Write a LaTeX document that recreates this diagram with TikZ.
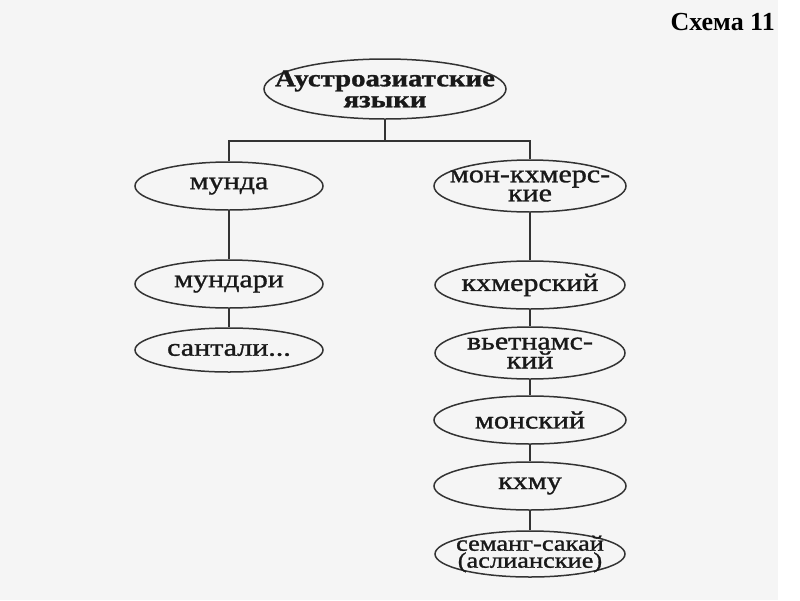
\documentclass[tikz,border=0pt]{standalone}
\usepackage{fontspec}
\setmainfont{Liberation Serif}[FakeStretch=1.2, FakeBold=1.2]
\newfontfamily\titlefont{Liberation Serif}
\usetikzlibrary{shapes.geometric}
\definecolor{bgcol}{HTML}{F5F5F5}
\definecolor{inkcol}{HTML}{333333}

\begin{document}
\begin{tikzpicture}[x=1pt, y=-1pt,
  lang/.style={ellipse, draw=inkcol, line width=1.5pt,
    inner xsep=-60pt, inner ysep=-20pt,
    minimum width=188pt, minimum height=48pt, align=center,
    text=black!90, font=\fontsize{25}{19}\selectfont},
  root/.style={lang, minimum width=242pt, minimum height=60pt,
    font=\bfseries\fontsize{24}{21}\selectfont},
  link/.style={draw=inkcol, line width=2pt}]
  \fill[bgcol] (0,0) rectangle (778,600);
  \useasboundingbox (0,0) rectangle (800,600);

  % root of the tree
  \node[root] (root) at (385,89) {Аустроазиатские\\языки};
  \coordinate (bar) at (385,141);

  % left branch
  \node[lang] (munda)   at (229,186) {мунда};
  \node[lang] (mundari) at (229,284) {мундари};
  \node[lang, minimum height=44pt] (santali) at (229,350) {сантали...};

  % right branch
  \node[lang, minimum width=192pt, minimum height=52pt] (monkhmer) at (530,186) {мон-кхмерс-\\кие};
  \node[lang, minimum width=190pt] (khmer)  at (530,285) {кхмерский};
  \node[lang, minimum width=190pt, minimum height=52pt] (viet) at (530,353) {вьетнамс-\\кий};
  \node[lang, minimum width=192pt] (mon)    at (530,420) {монский};
  \node[lang, minimum width=192pt] (khmu)   at (530,486) {кхму};
  \node[lang, minimum width=190pt, minimum height=46pt, font=\fontsize{22}{17}\selectfont]
    (semang) at (530,554) {семанг-сакай\\(аслианские)};

  % connectors
  \draw[link] (root.south) -- (bar);
  \draw[link] (munda.north) |- (bar) -| (monkhmer.north);
  \foreach \a/\b in {munda/mundari, mundari/santali,
                     monkhmer/khmer, khmer/viet, viet/mon, mon/khmu, khmu/semang}
    \draw[link] (\a.south) -- (\b.north);

  % caption
  \node[anchor=base east, inner sep=0pt, font=\titlefont\bfseries\fontsize{26}{28}\selectfont]
    (caption) at (775,30) {Схема 11};
\end{tikzpicture}
\end{document}
